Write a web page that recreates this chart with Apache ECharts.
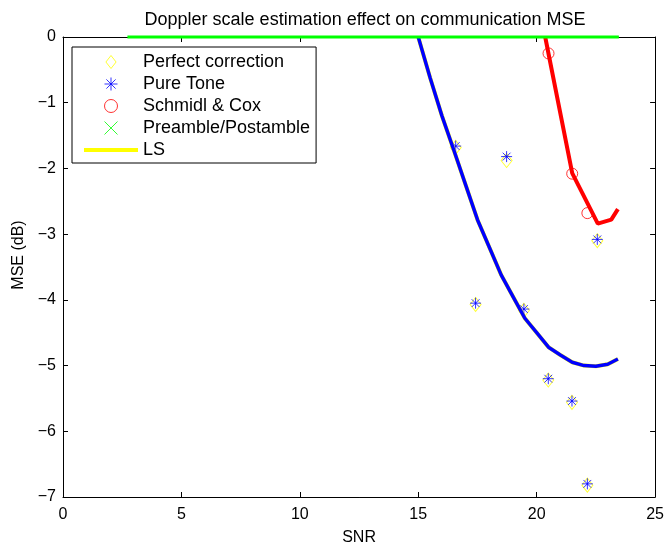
<!DOCTYPE html>
<html>
<head>
<meta charset="utf-8">
<script src="https://cdn.jsdelivr.net/npm/echarts@6/dist/echarts.min.js"></script>
<style>
  html, body { margin: 0; background: #fff; }
  #chart { width: 667px; height: 551px; }
</style>
</head>
<body>
<div id="chart"></div>
<script>
// tick values
const xTicks = [0, 5, 10, 15, 20, 25]
const yTicks = [0, -1, -2, -3, -4, -5, -6, -7]

// markers
const perfectSnr = [16.58, 18.73, 17.42, 19.46, 20.49, 21.49, 22.14, 22.56]
const perfectMse = [-1.68, -1.88, -4.07, -4.16, -5.22, -5.56, -6.82, -3.10]
const pureSnr = [16.58, 18.73, 17.42, 19.46, 20.49, 21.49, 22.14, 22.56]
const pureMse = [-1.66, -1.82, -4.05, -4.14, -5.20, -5.54, -6.80, -3.08]
const schmidlSnr = [20.50, 21.50, 22.14]
const schmidlMse = [-0.25, -2.08, -2.68]
const preambleSnr = []
const preambleMse = []

// curves
const blueSnr = [15.0, 15.5, 16.0, 16.5, 17.0, 17.5, 18.0, 18.5, 19.0, 19.5, 20.0, 20.5, 21.0, 21.5, 22.0, 22.5, 23.0, 23.43]
const blueMse = [0, -0.62, -1.2, -1.72, -2.25, -2.78, -3.2, -3.62, -3.95, -4.28, -4.5, -4.72, -4.84, -4.95, -5.0, -5.01, -4.98, -4.9]
const redSnr = [20.36, 21.5, 22.58, 23.15, 23.43]
const redMse = [0, -2.07, -2.84, -2.78, -2.62]
const greenSnr = [2.72, 23.47]
const greenMse = [0, 0]

const FONT = "'Liberation Sans', Arial, Helvetica, sans-serif"
const zip = (xs, ys) => xs.map((x, i) => [x, ys[i]])
const minus = v => String(v).replace('-', '\u2212')

// marker shapes, drawn in pixel units so the stroke stays thin
const DIAMOND = 'path://M5.5 0L11 7L5.5 14L0 7Z'
const STAR = 'path://M0 5.5L11 5.5M5.5 0L5.5 11M1.6 1.6L9.4 9.4M1.6 9.4L9.4 1.6'
const CROSS = 'path://M0 0L8 8M0 8L8 0'
const BAR = 'path://M0 0L54 0L54 4L0 4Z'

const markerStyle = c => ({ color: 'rgba(0,0,0,0)', borderColor: c, borderWidth: 1 })

const chart = echarts.init(document.getElementById('chart'))

const baseAxis = {
  axisLine: { show: true, onZero: false, lineStyle: { color: '#000', width: 1 } },
  axisTick: { show: true, inside: true, length: 5, lineStyle: { color: '#000' } },
  splitLine: { show: false }
}

chart.setOption({
  animation: false,
  backgroundColor: '#fff',
  textStyle: { fontFamily: FONT },
  title: {
    text: 'Doppler scale estimation effect on communication MSE',
    left: 360,
    textAlign: 'center',
    top: 6,
    textStyle: { fontFamily: FONT, fontSize: 18, fontWeight: 'normal', color: '#000' }
  },
  grid: { left: 63, right: 11, top: 37, bottom: 48 },
  legend: {
    orient: 'vertical',
    left: 72,
    top: 47,
    padding: [4, 6, 2, 12],
    itemGap: 0,
    itemWidth: 54,
    itemHeight: 13,
    borderColor: '#000',
    borderWidth: 1,
    backgroundColor: '#fff',
    textStyle: { fontFamily: FONT, fontSize: 18, color: '#000', lineHeight: 22 },
    data: [
      { name: 'Perfect correction', icon: DIAMOND, itemStyle: markerStyle('#ffff00') },
      { name: 'Pure Tone', icon: STAR, itemStyle: markerStyle('#0000ff') },
      { name: 'Schmidl & Cox', icon: 'circle', itemStyle: markerStyle('#ff0000') },
      { name: 'Preamble/Postamble', icon: CROSS, itemStyle: markerStyle('#00ff00') },
      { name: 'LS', icon: BAR, itemStyle: { color: '#ffff00', borderWidth: 0 } }
    ]
  },
  xAxis: [
    {
      ...baseAxis,
      type: 'value', min: 0, max: 25, interval: 5,
      name: 'SNR', nameLocation: 'middle', nameGap: 33,
      nameTextStyle: { fontFamily: FONT, fontSize: 16, color: '#000' },
      axisLabel: { color: '#000', fontSize: 16, fontFamily: FONT, margin: 10, formatter: minus }
    },
    {
      ...baseAxis,
      type: 'value', min: 0, max: 25, interval: 5, position: 'top',
      axisLabel: { show: false }
    }
  ],
  yAxis: [
    {
      ...baseAxis,
      type: 'value', min: -7, max: 0, interval: 1,
      name: 'MSE (dB)', nameLocation: 'middle', nameGap: 31,
      nameTextStyle: { fontFamily: FONT, fontSize: 16, color: '#000', padding: [0, 0, 0, 24] },
      axisLabel: { color: '#000', fontSize: 16, fontFamily: FONT, margin: 7, formatter: minus }
    },
    {
      ...baseAxis,
      type: 'value', min: -7, max: 0, interval: 1, position: 'right',
      axisLabel: { show: false }
    }
  ],
  series: [
    {
      name: 'Perfect correction', type: 'scatter', z: 2,
      symbol: DIAMOND, symbolSize: [11, 14],
      itemStyle: markerStyle('#ffff00'),
      data: zip(perfectSnr, perfectMse)
    },
    {
      name: 'Pure Tone', type: 'scatter', z: 3,
      symbol: STAR, symbolSize: 11,
      itemStyle: markerStyle('#0000ff'),
      data: zip(pureSnr, pureMse)
    },
    {
      name: 'Schmidl & Cox', type: 'scatter', z: 3,
      symbol: 'circle', symbolSize: 11,
      itemStyle: markerStyle('#ff0000'),
      data: zip(schmidlSnr, schmidlMse)
    },
    {
      name: 'Preamble/Postamble', type: 'scatter', z: 3,
      symbol: CROSS, symbolSize: 8,
      itemStyle: markerStyle('#00ff00'),
      data: zip(preambleSnr, preambleMse)
    },
    {
      name: 'LS', type: 'line', z: 4, symbol: 'none', clip: false,
      lineStyle: { color: '#ffff00', width: 4 },
      itemStyle: { color: '#ffff00' },
      data: zip(blueSnr, blueMse)
    },
    {
      name: 'blue', type: 'line', z: 5, symbol: 'none', clip: false,
      lineStyle: { color: '#0000ff', width: 3.5 },
      data: zip(blueSnr, blueMse)
    },
    {
      name: 'red', type: 'line', z: 5, symbol: 'none', clip: false,
      lineStyle: { color: '#ff0000', width: 4 },
      data: zip(redSnr, redMse)
    },
    {
      name: 'green', type: 'line', z: 5, symbol: 'none', clip: false,
      lineStyle: { color: '#00ff00', width: 3 },
      data: zip(greenSnr, greenMse)
    }
  ]
})
</script>
</body>
</html>
